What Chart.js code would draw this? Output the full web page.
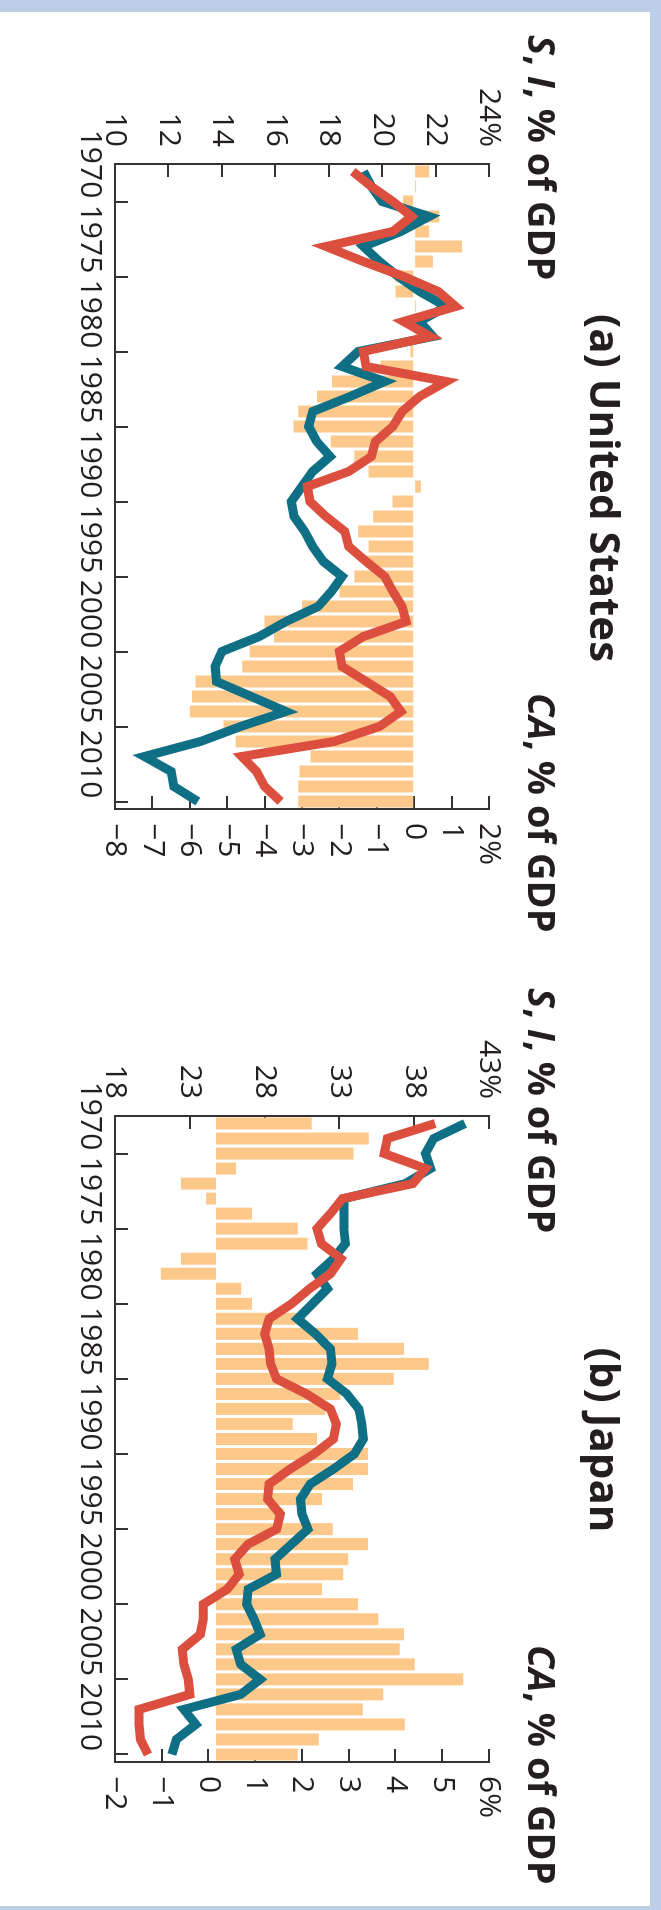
<!DOCTYPE html>
<html>
<head>
<meta charset="utf-8">
<title>Saving, investment and current account: United States and Japan</title>
<script src="https://cdn.jsdelivr.net/npm/chart.js@4.4.1/dist/chart.umd.min.js"></script>
<style>
  html, body { margin: 0; padding: 0; }
  body {
    width: 661px; height: 1910px; overflow: hidden; position: relative;
    background: #bccfe6; font-family: "Open Sans", sans-serif; color: #231f20;
  }
  /* the chart is laid out in landscape and turned a quarter turn clockwise */
  #stage {
    position: absolute; left: 0; top: 0; width: 1910px; height: 661px;
    transform-origin: 0 0; transform: translateX(661px) rotate(90deg);
  }
  #paper { position: absolute; left: 12px; top: 11px; width: 1894px; height: 650px; background: #fff; }
  canvas { position: absolute; top: 0; }
  .title {
    position: absolute; top: 34px; width: 1000px; text-align: center;
    font-size: 42px; line-height: 42px; font-weight: 700; white-space: nowrap;
  }
  .axis-title {
    position: absolute; top: 99px;
    font-size: 38px; line-height: 38px; font-weight: 700; white-space: nowrap;
  }
</style>
</head>
<body>
<div id="stage">
  <div id="paper"></div>
  <canvas id="usChart" width="955" height="661" style="left:0"></canvas>
  <canvas id="jpChart" width="955" height="661" style="left:955px"></canvas>
  <div class="title" style="left:-12px">(a) United States</div>
  <div class="title" style="left:940px">(b) Japan</div>
  <div class="axis-title" style="left:35px"><i>S</i>, <i>I</i>, % of GDP</div>
  <div class="axis-title" style="left:693px"><i>CA</i>, % of GDP</div>
  <div class="axis-title" style="left:988px"><i>S</i>, <i>I</i>, % of GDP</div>
  <div class="axis-title" style="left:1645px"><i>CA</i>, % of GDP</div>
</div>
<script>
const years = [1970, 1971, 1972, 1973, 1974, 1975, 1976, 1977, 1978, 1979,
  1980, 1981, 1982, 1983, 1984, 1985, 1986, 1987, 1988, 1989,
  1990, 1991, 1992, 1993, 1994, 1995, 1996, 1997, 1998, 1999,
  2000, 2001, 2002, 2003, 2004, 2005, 2006, 2007, 2008, 2009,
  2010, 2011, 2012];

// United States, % of GDP
const usSaving = [19.3, 19.6, 20.0, 21.75, 20.7, 19.3, 19.9, 20.6, 21.4, 22.4,
  21.4, 21.9, 19.1, 18.5, 20.1, 18.8, 17.4, 17.25, 17.55, 18.05,
  17.4, 17.0, 16.6, 16.7, 17.1, 17.4, 17.8, 18.5, 18.1, 17.6,
  16.4, 15.4, 14.0, 13.75, 13.8, 15.1, 16.4, 14.7, 13.2, 11.1,
  12.1, 12.2, 13.1];
const usInvestment = [18.9, 19.6, 20.4, 21.1, 20.4, 17.9, 19.3, 20.8, 22.1, 22.75,
  20.8, 21.8, 19.3, 19.4, 22.4, 21.4, 20.75, 20.4, 19.75, 19.6,
  18.75, 17.2, 17.3, 17.9, 18.6, 18.75, 19.4, 20.1, 20.4, 20.75,
  20.9, 19.3, 18.4, 18.5, 19.4, 20.3, 20.7, 19.9, 18.2, 14.75,
  15.3, 15.6, 16.2];
const usCurrentAccount = [0.4, 0.05, -0.3, 0.67, 0.4, 1.28, 0.5, -0.5, -0.5, 0.05,
  0.1, 0.2, -0.1, -0.9, -2.2, -2.6, -3.1, -3.23, -2.23, -1.6,
  -1.22, 0.18, -0.58, -1.1, -1.5, -1.22, -1.3, -1.6, -2.0, -3.0,
  -4.0, -3.75, -4.4, -4.6, -5.85, -5.94, -6.0, -5.1, -4.77, -2.77,
  -3.07, -3.1, -3.1];

// Japan, % of GDP
const jpSaving = [41.4, 39.3, 38.75, 39.1, 37.4, 33.3, 33.3, 33.3, 33.4, 32.6,
  31.5, 32.2, 31.2, 30.2, 31.4, 32.4, 32.5, 32.2, 33.5, 34.3,
  34.5, 34.6, 34.0, 32.6, 31.05, 30.4, 30.5, 30.9, 29.8, 28.7,
  28.8, 26.9, 26.8, 27.3, 27.7, 26.1, 26.4, 27.7, 26.4, 22.6,
  23.4, 22.1, 21.8];
const jpInvestment = [39.4, 36.2, 36.0, 38.75, 37.9, 33.2, 32.4, 31.5, 31.8, 33.1,
  32.4, 31.0, 29.8, 28.3, 28.0, 28.3, 28.4, 28.8, 30.8, 32.4,
  32.8, 32.6, 31.3, 29.7, 28.3, 28.2, 29.05, 28.8, 26.9, 26.0,
  26.3, 25.5, 23.9, 23.9, 23.7, 22.5, 22.6, 22.9, 23.0, 19.6,
  19.6, 19.7, 20.2];
const jpCurrentAccount = [2.21, 3.43, 3.1, 0.59, -0.59, -0.05, 0.93, 1.91, 2.12, -0.59,
  -1.02, 0.7, 0.93, 2.07, 3.2, 4.18, 4.71, 3.96, 2.82, 2.5,
  1.8, 2.32, 3.41, 3.41, 3.09, 2.43, 1.6, 2.66, 3.41, 2.99,
  2.88, 2.43, 3.2, 3.63, 4.18, 4.09, 4.41, 5.45, 3.74, 3.3,
  4.2, 2.36, 1.91];

// axis ranges and tick steps
const yearRange = [1970, 2013];
const yearStep = 5;
const usSiRange = [10, 24], usSiStep = 2;
const usCaRange = [-8, 2], usCaStep = 1;
const jpSiRange = [18, 43], jpSiStep = 5;
const jpCaRange = [-2, 6], jpCaStep = 1;
const jpCaBase = 0.16;   // the Japanese bars stand on a baseline a little above the 0 tick

const TEAL = '#0f6f85';
const RED = '#dc4f3e';
const ORANGE = '#fdc98a';
const INK = '#231f20';
const AXIS = '#333333';

Chart.defaults.font.family = '"Open Sans", sans-serif';
Chart.defaults.color = INK;

// values are annual, plotted in the middle of each year
function points(values) {
  return values.map((v, i) => ({ x: years[i] + 0.5, y: v }));
}

function tickText(max) {
  return function (value) {
    let s = value < 0 ? '\u2212' + Math.abs(value) : String(value);
    if (value === max) s += '%';
    return s;
  };
}

function axisLine(extra) {
  return Object.assign({
    grid: { drawOnChartArea: false, tickLength: -13, color: AXIS, lineWidth: 2 },
    border: { display: true, color: AXIS, width: 2 }
  }, extra);
}

function drawPanel(canvasId, p) {
  return new Chart(document.getElementById(canvasId), {
    type: 'bar',
    data: {
      datasets: [
        {
          type: 'line', label: 'Investment', data: points(p.investment), yAxisID: 'si',
          borderColor: RED, borderWidth: 9, pointRadius: 0, tension: 0, fill: false, order: 0
        },
        {
          type: 'line', label: 'Saving', data: points(p.saving), yAxisID: 'si',
          borderColor: TEAL, borderWidth: 9, pointRadius: 0, tension: 0, fill: false, order: 1
        },
        {
          type: 'bar', label: 'Current account', data: points(p.ca), yAxisID: 'ca',
          backgroundColor: ORANGE, barPercentage: 0.8, categoryPercentage: 1,
          base: p.caBase, order: 2
        }
      ]
    },
    options: {
      responsive: false,
      animation: false,
      events: [],
      layout: { padding: { top: 172, left: 0, right: 0, bottom: 0 } },
      plugins: { legend: { display: false }, tooltip: { enabled: false } },
      scales: {
        x: axisLine({
          type: 'linear', min: yearRange[0], max: yearRange[1], offset: false,
          ticks: {
            stepSize: yearStep, autoSkip: false, maxRotation: 0, includeBounds: false,
            padding: 20, font: { size: 30 }, color: INK,
            callback: (v) => String(v)
          },
          afterFit: (s) => { s.height = 115; }
        }),
        si: axisLine({
          type: 'linear', axis: 'y', position: 'left',
          min: p.siRange[0], max: p.siRange[1],
          ticks: {
            stepSize: p.siStep, autoSkip: false, includeBounds: false, padding: 30,
            font: { size: 30 }, color: INK, callback: tickText(p.siRange[1])
          },
          afterFit: (s) => { s.width = p.left; }
        }),
        ca: axisLine({
          type: 'linear', axis: 'y', position: 'right',
          min: p.caRange[0], max: p.caRange[1],
          ticks: {
            stepSize: p.caStep, autoSkip: false, includeBounds: false, padding: 27,
            font: { size: 30 }, color: INK, callback: tickText(p.caRange[1])
          },
          afterFit: (s) => { s.width = p.right; }
        })
      }
    }
  });
}

drawPanel('usChart', {
  saving: usSaving, investment: usInvestment, ca: usCurrentAccount,
  siRange: usSiRange, siStep: usSiStep, caRange: usCaRange, caStep: usCaStep,
  caBase: undefined, left: 164, right: 146
});

drawPanel('jpChart', {
  saving: jpSaving, investment: jpInvestment, ca: jpCurrentAccount,
  siRange: jpSiRange, siStep: jpSiStep, caRange: jpCaRange, caStep: jpCaStep,
  caBase: jpCaBase, left: 161, right: 148
});
</script>
</body>
</html>
